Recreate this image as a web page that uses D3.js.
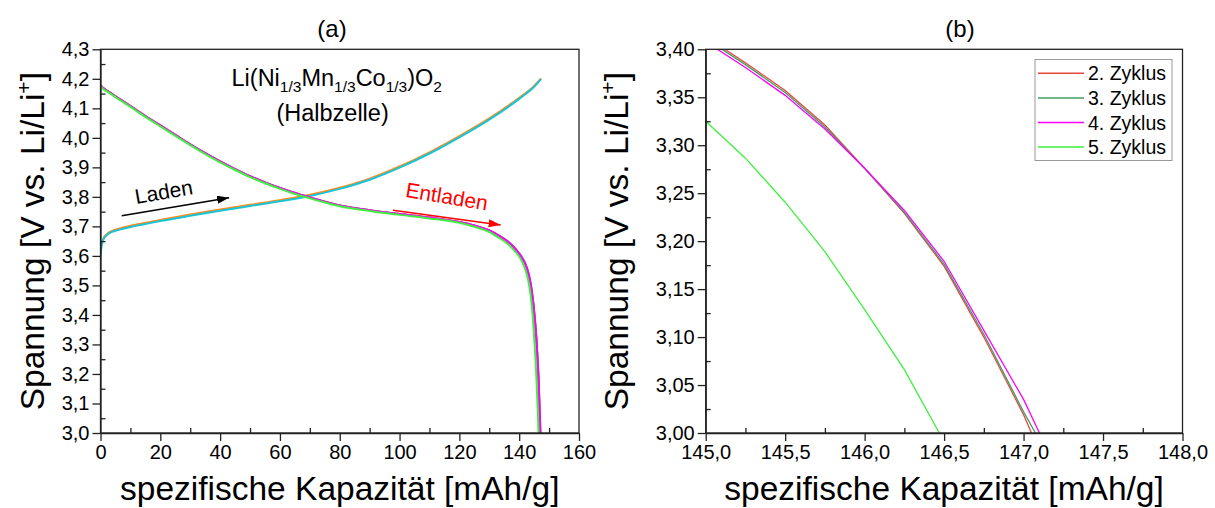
<!DOCTYPE html>
<html>
<head>
<meta charset="utf-8">
<title>Lade-/Entladekurven NMC Halbzelle</title>
<script src="https://d3js.org/d3.v7.min.js"></script>
<style>
    body { margin: 0; background: #fff; }
    svg text { font-family: Arial, "Liberation Sans", sans-serif; fill: #000; }
    .axis path, .axis line { stroke: #222; stroke-width: 1.3px; }
    .axis text { font-size: 20px; }
    .frame { fill: none; stroke: #222; stroke-width: 1.3px; }
</style>
</head>
<body>
<svg id="chart" width="1215" height="508"></svg>
<script>
// --- Daten ---

// Ladekurven in (a)
const chargeCap      = [0, 0.3, 0.7, 1.2, 2, 3, 5, 7.5, 10, 15, 20, 30, 40, 50, 60, 70, 80, 90, 100, 110, 120, 130, 140, 145, 147.3];
const chargeVOrange  = [3.606, 3.636, 3.653, 3.664, 3.673, 3.681, 3.689, 3.696, 3.702, 3.712, 3.722, 3.740, 3.757, 3.773, 3.789, 3.807, 3.831, 3.862, 3.903, 3.951, 4.006, 4.066, 4.136, 4.176, 4.201];
const chargeVCyan    = [3.598, 3.630, 3.648, 3.660, 3.669, 3.677, 3.685, 3.692, 3.698, 3.708, 3.718, 3.736, 3.753, 3.769, 3.785, 3.803, 3.827, 3.858, 3.899, 3.947, 4.002, 4.062, 4.132, 4.173, 4.199];

// Entladung, gemeinsamer Verlauf der Zyklen 2-4 (bis 144,75 mAh/g)
const bodyCap = [0, 1, 2.5, 5, 10, 15, 20, 25, 30, 35, 40, 45, 50, 55, 60, 65, 70, 75, 80, 90, 100, 110, 120, 125, 130, 133, 136, 138, 140, 141, 142, 143, 143.5, 144, 144.5, 144.75];
const bodyV   = [4.178, 4.168, 4.158, 4.141, 4.108, 4.074, 4.042, 4.010, 3.978, 3.948, 3.920, 3.894, 3.870, 3.849, 3.830, 3.813, 3.798, 3.784, 3.771, 3.755, 3.742, 3.730, 3.715, 3.703, 3.686, 3.670, 3.650, 3.632, 3.608, 3.593, 3.574, 3.545, 3.523, 3.495, 3.458, 3.437];

// Entladeende der Zyklen 2-4 (b)
const tailCap  = [145.0, 145.25, 145.5, 145.75, 146.0, 146.25, 146.5, 146.75, 147.0];
const tail2V   = [3.413, 3.386, 3.357, 3.321, 3.276, 3.229, 3.174, 3.100, 3.019];
const tail3V   = [3.411, 3.384, 3.355, 3.319, 3.276, 3.230, 3.176, 3.103, 3.022];
const tail4V   = [3.408, 3.381, 3.352, 3.317, 3.276, 3.232, 3.179, 3.107, 3.035];
const endCap   = [147.05, 147.075, 147.1];   // Abschaltspannung 3,0 V erreicht

// 5. Zyklus, eigener Verlauf
const cyc5Cap = [0, 1, 2.5, 5, 10, 15, 20, 25, 30, 35, 40, 45, 50, 55, 60, 65, 70, 75, 80, 90, 100, 110, 120, 125, 130, 133, 136, 138, 140, 141, 142, 143, 143.5, 144, 144.5, 144.75, 145.0, 145.25, 145.5, 145.75, 146.0, 146.25, 146.47];
const cyc5V   = [4.175, 4.165, 4.155, 4.138, 4.105, 4.071, 4.039, 4.007, 3.975, 3.945, 3.917, 3.891, 3.867, 3.846, 3.827, 3.810, 3.795, 3.781, 3.768, 3.752, 3.739, 3.727, 3.712, 3.699, 3.681, 3.663, 3.642, 3.622, 3.598, 3.580, 3.555, 3.518, 3.490, 3.452, 3.400, 3.365, 3.325, 3.2865, 3.2406, 3.189, 3.1285, 3.066, 3.0];

const cycleNames  = ["2. Zyklus", "3. Zyklus", "4. Zyklus", "5. Zyklus"];
const cycleColors = ["#e8483f", "#3fa066", "#ff00ff", "#3ff03f"];

const xTicksA = [0, 20, 40, 60, 80, 100, 120, 140, 160];
const yTicksA = [3.0, 3.1, 3.2, 3.3, 3.4, 3.5, 3.6, 3.7, 3.8, 3.9, 4.0, 4.1, 4.2, 4.3];
const xTicksB = [145.0, 145.5, 146.0, 146.5, 147.0, 147.5, 148.0];
const yTicksB = [3.00, 3.05, 3.10, 3.15, 3.20, 3.25, 3.30, 3.35, 3.40];

// --- Serien zusammensetzen ---
function zip(caps, vs) { return caps.map((c, i) => ({x: c, y: vs[i]})); }

const bodyPts = zip(bodyCap, bodyV);
const discharge = [
    bodyPts.concat(zip(tailCap, tail2V), [{x: endCap[0], y: 3.0}]),
    bodyPts.concat(zip(tailCap, tail3V), [{x: endCap[1], y: 3.0}]),
    bodyPts.concat(zip(tailCap, tail4V), [{x: endCap[2], y: 3.0}]),
    zip(cyc5Cap, cyc5V)
];
const charge = [
    {pts: zip(chargeCap, chargeVOrange), color: "#ff8a1c"},
    {pts: zip(chargeCap, chargeVCyan), color: "#17c5d9"}
];

const de = d3.formatLocale({decimal: ",", thousands: ".", grouping: [3], currency: ["", " €"]});

const svg = d3.select("#chart");

// Panel mit Achsen und Rahmen
function panel(id, box, xDom, yDom, xMaj, xMin, yMaj, yMin, xFmt, yFmt) {
    const g = svg.append("g");
    const x = d3.scaleLinear().domain(xDom).range([box.l, box.r]);
    const y = d3.scaleLinear().domain(yDom).range([box.b, box.t]);

    svg.append("clipPath").attr("id", id)
        .append("rect")
        .attr("x", box.l).attr("y", box.t)
        .attr("width", box.r - box.l).attr("height", box.b - box.t);

    const plot = g.append("g").attr("clip-path", `url(#${id})`);

    // Nebenstriche nach innen
    g.append("g").attr("class", "axis").attr("transform", `translate(0,${box.b})`)
        .call(d3.axisBottom(x).tickValues(xMin).tickSize(-5).tickFormat(""))
        .call(s => s.select(".domain").remove());
    g.append("g").attr("class", "axis").attr("transform", `translate(${box.l},0)`)
        .call(d3.axisLeft(y).tickValues(yMin).tickSize(-5).tickFormat(""))
        .call(s => s.select(".domain").remove());

    // Hauptstriche nach aussen
    g.append("g").attr("class", "axis").attr("transform", `translate(0,${box.b})`)
        .call(d3.axisBottom(x).tickValues(xMaj).tickSizeInner(8).tickSizeOuter(0).tickPadding(4).tickFormat(de.format(xFmt)));
    g.append("g").attr("class", "axis").attr("transform", `translate(${box.l},0)`)
        .call(d3.axisLeft(y).tickValues(yMaj).tickSizeInner(8).tickSizeOuter(0).tickPadding(3).tickFormat(de.format(yFmt)));

    g.append("rect").attr("class", "frame")
        .attr("x", box.l).attr("y", box.t)
        .attr("width", box.r - box.l).attr("height", box.b - box.t);

    return {g, plot, x, y, box};
}

function axisTitles(p, xBase, yBase) {
    const midX = (p.box.l + p.box.r) / 2;
    const midY = (p.box.t + p.box.b) / 2;
    svg.append("text")
        .attr("x", midX).attr("y", xBase)
        .attr("text-anchor", "middle")
        .style("font-size", "33.5px")
        .text("spezifische Kapazität [mAh/g]");

    const t = svg.append("text")
        .attr("transform", `translate(${yBase},${midY}) rotate(-90)`)
        .attr("text-anchor", "middle")
        .style("font-size", "33.5px");
    t.append("tspan").text("Spannung [V vs. Li/Li");
    t.append("tspan").attr("dy", -13).style("font-size", "21px").text("+");
    t.append("tspan").attr("dy", 13).text("]");
}

// --- Panel (a) ---
const a = panel("clipA", {l: 100.5, r: 579, t: 49.3, b: 433},
    [0, 160], [3.0, 4.3],
    xTicksA, d3.range(10, 160, 20),
    yTicksA, d3.range(3.05, 4.3, 0.1),
    ".0f", ".1f");

const lineA = d3.line().x(d => a.x(d.x)).y(d => a.y(d.y)).curve(d3.curveMonotoneX);

charge.forEach(c => {
    a.plot.append("path").datum(c.pts)
        .attr("d", lineA).attr("fill", "none")
        .attr("stroke", c.color).attr("stroke-width", 2);
});
discharge.forEach((pts, i) => {
    a.plot.append("path").datum(pts)
        .attr("d", lineA).attr("fill", "none")
        .attr("stroke", cycleColors[i]).attr("stroke-width", 2);
});

svg.append("text").attr("x", 332).attr("y", 37)
    .attr("text-anchor", "middle").style("font-size", "24px").text("(a)");

// Verbindungsname
const comp = svg.append("text")
    .attr("x", a.x(79)).attr("y", 86)
    .attr("text-anchor", "middle")
    .style("font-size", "23.5px");
[["Li(Ni", 0], ["1/3", 1], ["Mn", 0], ["1/3", 1], ["Co", 0], ["1/3", 1], [")O", 0], ["2", 1]]
    .forEach(([s, sub], i, arr) => {
        const prev = i > 0 ? arr[i - 1][1] : 0;
        const dy = sub && !prev ? 6 : (!sub && prev ? -6 : 0);
        comp.append("tspan").attr("dy", dy)
            .style("font-size", sub ? "15.5px" : "23.5px").text(s);
    });
svg.append("text")
    .attr("x", a.x(77.6)).attr("y", 121)
    .attr("text-anchor", "middle")
    .style("font-size", "23.5px")
    .text("(Halbzelle)");

// Pfeile
const defs = svg.append("defs");
function arrowHead(id, color) {
    defs.append("marker").attr("id", id)
        .attr("viewBox", "0 0 12 8").attr("refX", 12).attr("refY", 4)
        .attr("markerWidth", 12).attr("markerHeight", 8)
        .attr("markerUnits", "userSpaceOnUse").attr("orient", "auto")
        .append("path").attr("d", "M0,0L12,4L0,8Z").attr("fill", color);
}
arrowHead("headBlack", "#000");
arrowHead("headRed", "#ff0000");

function arrow(x0, y0, x1, y1, color, head) {
    svg.append("line")
        .attr("x1", a.x(x0)).attr("y1", a.y(y0))
        .attr("x2", a.x(x1)).attr("y2", a.y(y1))
        .attr("stroke", color).attr("stroke-width", 1.5)
        .attr("marker-end", `url(#${head})`);
}
arrow(7.1, 3.736, 43.0, 3.797, "#000", "headBlack");
arrow(97.8, 3.755, 133.8, 3.705, "#ff0000", "headRed");

svg.append("text")
    .attr("transform", `translate(${a.x(21.6)},${a.y(3.793)}) rotate(-10)`)
    .attr("text-anchor", "middle").style("font-size", "21px")
    .text("Laden");
svg.append("text")
    .attr("transform", `translate(${a.x(115.4)},${a.y(3.777)}) rotate(9.5)`)
    .attr("text-anchor", "middle").style("font-size", "21px")
    .style("fill", "#ff0000")
    .text("Entladen");

axisTitles(a, 500, 44);

// --- Panel (b) ---
const b = panel("clipB", {l: 705.7, r: 1182.5, t: 49.3, b: 433},
    [145, 148], [3.0, 3.4],
    xTicksB, d3.range(145.25, 148, 0.5),
    yTicksB, d3.range(3.025, 3.4, 0.05),
    ".1f", ".2f");

const lineB = d3.line().x(d => b.x(d.x)).y(d => b.y(d.y));

discharge.forEach((pts, i) => {
    b.plot.append("path").datum(pts)
        .attr("d", lineB).attr("fill", "none")
        .attr("stroke", cycleColors[i]).attr("stroke-width", 1.3);
});

svg.append("text").attr("x", 960).attr("y", 37)
    .attr("text-anchor", "middle").style("font-size", "24px").text("(b)");

// Legende
const leg = svg.append("g");
leg.append("rect")
    .attr("x", 1035).attr("y", 59.5).attr("width", 137).attr("height", 101)
    .attr("fill", "#fff").attr("stroke", "#999").attr("stroke-width", 1);
cycleNames.forEach((name, i) => {
    const yy = 73.3 + i * 24.6;
    leg.append("line")
        .attr("x1", 1038).attr("x2", 1084).attr("y1", yy).attr("y2", yy)
        .attr("stroke", cycleColors[i]).attr("stroke-width", 1.5);
    leg.append("text")
        .attr("x", 1088).attr("y", yy + 7)
        .style("font-size", "19.5px")
        .text(name);
});

axisTitles(b, 500, 628);
</script>
</body>
</html>
